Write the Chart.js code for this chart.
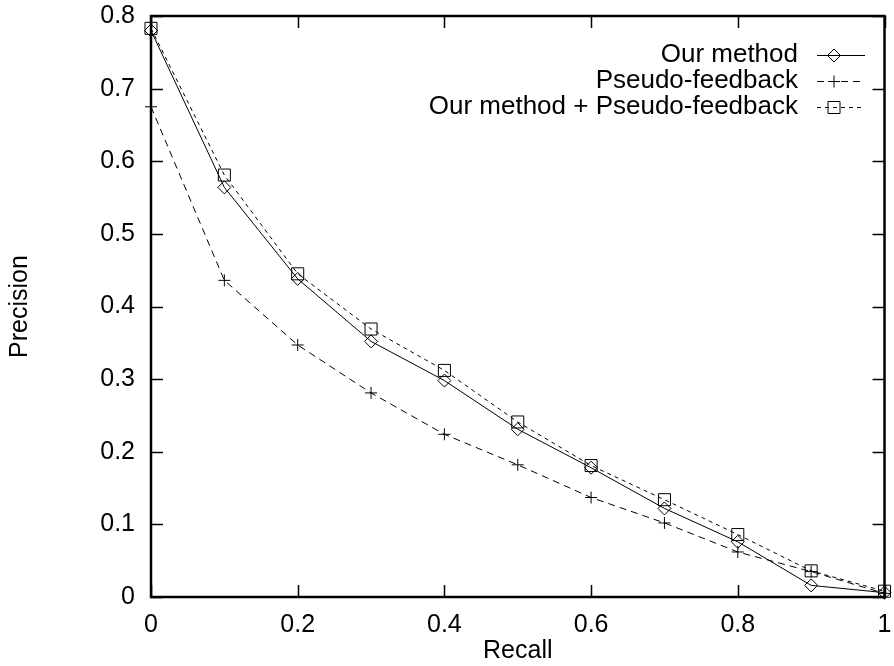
<!DOCTYPE html>
<html>
<head>
<meta charset="utf-8">
<script src="https://cdn.jsdelivr.net/npm/chart.js@4/dist/chart.umd.min.js"></script>
<style>
  html, body { margin: 0; padding: 0; background: #fff; }
  #zone { width: 894px; height: 666px; }
</style>
</head>
<body>
<div id="zone"><canvas id="graphique"></canvas></div>
<script>
// valeurs
const rappel = [0, 0.1, 0.2, 0.3, 0.4, 0.5, 0.6, 0.7, 0.8, 0.9, 1]
const notreMethode = [0.780, 0.564, 0.438, 0.352, 0.298, 0.231, 0.178, 0.122, 0.076, 0.016, 0.006]
const pseudoFeedback = [0.675, 0.436, 0.347, 0.281, 0.224, 0.182, 0.137, 0.102, 0.062, 0.035, 0.005]
const methodePlusPseudo = [0.783, 0.581, 0.445, 0.369, 0.312, 0.241, 0.181, 0.134, 0.086, 0.036, 0.008]
const nomsSeries = ["Our method", "Pseudo-feedback", "Our method + Pseudo-feedback"]
const xTickLabels = ["0", "0.2", "0.4", "0.6", "0.8", "1"]
const yTickLabels = ["0", "0.1", "0.2", "0.3", "0.4", "0.5", "0.6", "0.7", "0.8"]

const police = "'Liberation Sans', Arial, Helvetica, sans-serif"

function points(valeurs) {
    return valeurs.map((v, i) => ({ x: rappel[i], y: v }))
}

// cadre + graduations vers l'intérieur (style gnuplot) + légende en haut à droite
const cadreGnuplot = {
    id: "cadreGnuplot",
    afterDraw(chart) {
        const ctx = chart.ctx
        const a = chart.chartArea
        const sx = chart.scales.x
        const sy = chart.scales.y
        ctx.save()
        ctx.strokeStyle = "#000"
        ctx.lineWidth = 1.5
        ctx.beginPath()
        for (const t of sx.ticks) {
            const px = Math.round(sx.getPixelForValue(t.value)) + 0.5
            ctx.moveTo(px, a.bottom); ctx.lineTo(px, a.bottom - 12)
            ctx.moveTo(px, a.top); ctx.lineTo(px, a.top + 12)
        }
        for (const t of sy.ticks) {
            const py = Math.round(sy.getPixelForValue(t.value)) + 0.5
            ctx.moveTo(a.left, py); ctx.lineTo(a.left + 12, py)
            ctx.moveTo(a.right, py); ctx.lineTo(a.right - 12, py)
        }
        ctx.stroke()
        ctx.lineWidth = 2.5
        ctx.strokeRect(a.left, a.top, a.right - a.left, a.bottom - a.top)

        // légende : texte à gauche, échantillon de ligne à droite
        ctx.font = "26px " + police
        ctx.textAlign = "right"
        ctx.textBaseline = "middle"
        const ys = [55, 81, 107]
        chart.data.datasets.forEach((ds, i) => {
            const y = ys[i]
            ctx.fillStyle = "#000"
            ctx.fillText(ds.label, 798, y)
            ctx.lineWidth = 1
            ctx.setLineDash(ds.borderDash || [])
            ctx.beginPath()
            ctx.moveTo(817, y + 0.5); ctx.lineTo(865, y + 0.5)
            ctx.stroke()
            ctx.setLineDash([])
            ctx.fillStyle = "rgba(0,0,0,0)" // marqueurs creux
            Chart.helpers.drawPoint(ctx, {
                pointStyle: ds.pointStyle, radius: ds.pointRadius, borderWidth: 1, rotation: 0
            }, 834, y + 0.5)
        })
        ctx.restore()
    }
}

const config = {
    type: "line",
    data: {
        datasets: [{
            label: nomsSeries[0],
            data: points(notreMethode),
            borderColor: "#000",
            borderWidth: 1,
            pointStyle: "rectRot",
            pointRadius: 6.5,
            pointBorderColor: "#000",
            pointBackgroundColor: "rgba(0,0,0,0)",
            pointBorderWidth: 1
        }, {
            label: nomsSeries[1],
            data: points(pseudoFeedback),
            borderColor: "#000",
            borderWidth: 1,
            borderDash: [7, 5],
            pointStyle: "cross",
            pointRadius: 6,
            pointBorderColor: "#000",
            pointBorderWidth: 1
        }, {
            label: nomsSeries[2],
            data: points(methodePlusPseudo),
            borderColor: "#000",
            borderWidth: 1,
            borderDash: [4, 4],
            pointStyle: "rect",
            pointRadius: 8.5,
            pointBorderColor: "#000",
            pointBackgroundColor: "rgba(0,0,0,0)",
            pointBorderWidth: 1
        }]
    },
    options: {
        responsive: true,
        maintainAspectRatio: false,
        animation: false,
        clip: false,
        layout: { padding: { top: 16, right: 4, left: 0, bottom: 0 } },
        plugins: { legend: { display: false }, tooltip: { enabled: false } },
        scales: {
            x: {
                type: "linear",
                min: 0, max: 1,
                grid: { display: false, drawTicks: false },
                border: { display: false },
                ticks: {
                    stepSize: 0.2,
                    padding: 13,
                    color: "#000",
                    maxRotation: 0,
                    font: { family: police, size: 25 },
                    callback: (v, i) => xTickLabels[i]
                },
                title: {
                    display: true, text: "Recall", color: "#000",
                    font: { family: police, size: 25, lineHeight: 1.2 },
                    padding: { top: 0, bottom: 0 }
                },
                afterFit(scale) {
                    scale.height = 69
                    scale.paddingLeft = 0
                    scale.paddingRight = 0
                }
            },
            y: {
                type: "linear",
                min: 0, max: 0.8,
                grid: { display: false, drawTicks: false },
                border: { display: false },
                ticks: {
                    stepSize: 0.1,
                    padding: 16,
                    color: "#000",
                    font: { family: police, size: 25 },
                    callback: (v, i) => yTickLabels[i]
                },
                title: {
                    display: true, text: "Precision", color: "#000",
                    font: { family: police, size: 25, lineHeight: 1.2 },
                    padding: { top: 5, bottom: 0 }
                },
                afterFit(scale) {
                    scale.width = 151
                    scale.paddingTop = 0
                    scale.paddingBottom = 0
                }
            }
        }
    },
    plugins: [cadreGnuplot]
}

const graphique = new Chart(document.querySelector("#graphique"), config)
</script>
</body>
</html>
